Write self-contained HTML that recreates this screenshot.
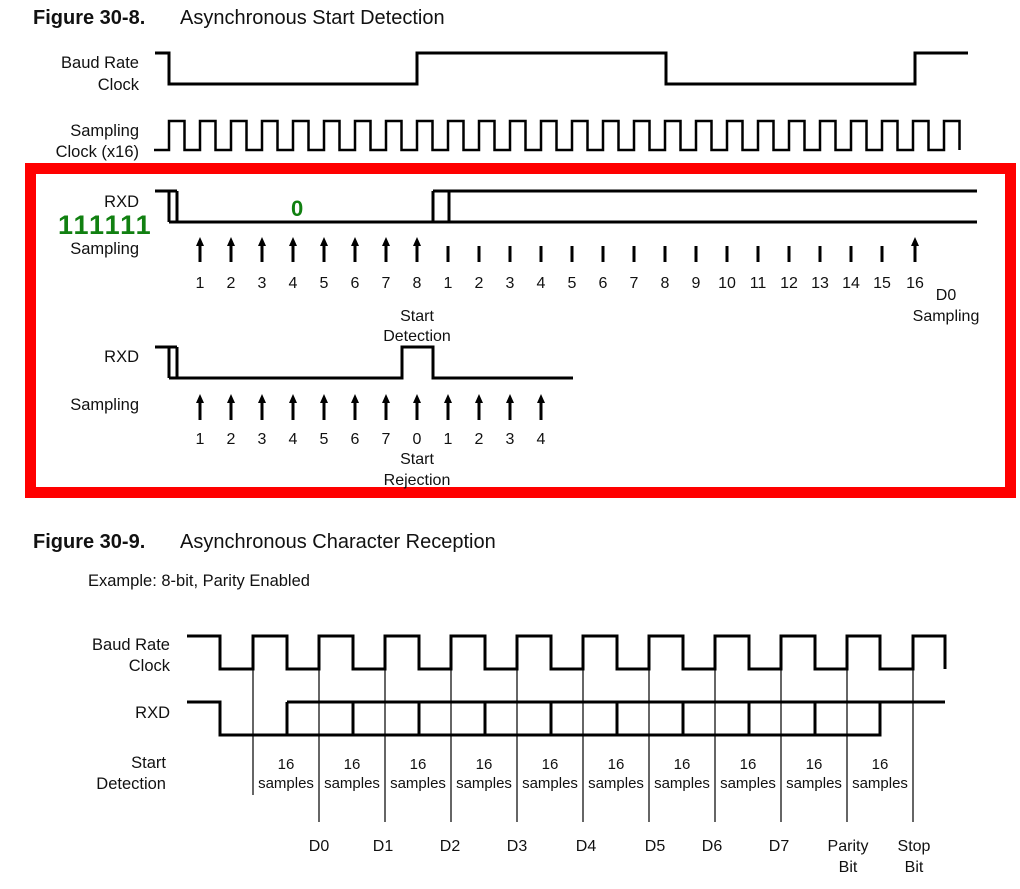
<!DOCTYPE html>
<html><head><meta charset="utf-8"><style>
html,body{margin:0;padding:0;background:#fff;}
svg{display:block;}
text{font-family:"Liberation Sans",Arial,sans-serif;fill:#111;}
</style></head><body>
<svg width="1020" height="889" viewBox="0 0 1020 889" xmlns="http://www.w3.org/2000/svg">
<g font-size="20">
<text x="33" y="24" font-weight="bold">Figure 30-8.</text>
<text x="180" y="24">Asynchronous Start Detection</text>
<text x="33" y="548" font-weight="bold">Figure 30-9.</text>
<text x="180" y="548">Asynchronous Character Reception</text>
</g>
<g font-size="16.5" text-anchor="end">
<text x="139" y="68">Baud Rate</text>
<text x="139" y="90">Clock</text>
<text x="139" y="136">Sampling</text>
<text x="139" y="157">Clock (x16)</text>
<text x="139" y="207">RXD</text>
<text x="139" y="254">Sampling</text>
<text x="139" y="362">RXD</text>
<text x="139" y="410">Sampling</text>
<text x="170" y="650">Baud Rate</text>
<text x="170" y="671">Clock</text>
<text x="170" y="718">RXD</text>
<text x="166" y="768">Start</text>
<text x="166" y="789">Detection</text>
</g>
<text x="88" y="586" font-size="16.5">Example: 8-bit, Parity Enabled</text>
<rect x="30.5" y="168.5" width="980" height="324" fill="none" stroke="#f00" stroke-width="11"/>
<text x="58" y="234" font-size="27" font-weight="bold" letter-spacing="2" style="fill:#118011">111111</text>
<text x="291" y="216" font-size="22" font-weight="bold" style="fill:#118011">0</text>
<g fill="none" stroke="#000" stroke-width="3">
<polyline points="155,53 169,53 169,84 417,84 417,53 666,53 666,84 915,84 915,53 968,53"/>
<polyline points="155,191 177,191"/>
<path d="M169,191V222M177,191V222M169,222H449M433,222V191M449,222V191M433,191H977M449,222H977"/>
<polyline points="155,347 177,347"/>
<path d="M169,347V378M177,347V378M169,378H402V347H433V378H573"/>
<polyline points="187,636 220,636 220,669 253,669 253,636 287,636 287,669 319,669 319,636 353,636 353,669 385,669 385,636 419,636 419,669 451,669 451,636 485,636 485,669 517,669 517,636 551,636 551,669 583,669 583,636 617,636 617,669 649,669 649,636 683,636 683,669 715,669 715,636 749,636 749,669 781,669 781,636 815,636 815,669 847,669 847,636 880,636 880,669 913,669 913,636 945,636 945,669"/>
<path d="M187,702H220V735H880V702M287,702H945M287,702V735M353,702V735M419,702V735M485,702V735M551,702V735M617,702V735M683,702V735M749,702V735M815,702V735"/>
</g>
<polyline fill="none" stroke="#000" stroke-width="2.5" points="154,150 169,150 169,121 184.5,121 184.5,150 200,150 200,121 215.5,121 215.5,150 231,150 231,121 246.5,121 246.5,150 262,150 262,121 277.5,121 277.5,150 293,150 293,121 308.5,121 308.5,150 324,150 324,121 339.5,121 339.5,150 355,150 355,121 370.5,121 370.5,150 386,150 386,121 401.5,121 401.5,150 417,150 417,121 432.5,121 432.5,150 448,150 448,121 463.5,121 463.5,150 479,150 479,121 494.5,121 494.5,150 510,150 510,121 525.5,121 525.5,150 541,150 541,121 556.5,121 556.5,150 572,150 572,121 587.5,121 587.5,150 603,150 603,121 618.5,121 618.5,150 634,150 634,121 649.5,121 649.5,150 665,150 665,121 680.5,121 680.5,150 696,150 696,121 711.5,121 711.5,150 727,150 727,121 742.5,121 742.5,150 758,150 758,121 773.5,121 773.5,150 789,150 789,121 804.5,121 804.5,150 820,150 820,121 835.5,121 835.5,150 851,150 851,121 866.5,121 866.5,150 882,150 882,121 897.5,121 897.5,150 913,150 913,121 928.5,121 928.5,150 944,150 944,121 959.5,121 959.5,150"/>
<g stroke="#000" stroke-width="1.2">
<path d="M253,669V795M319,669V822M385,669V822M451,669V822M517,669V822M583,669V822M649,669V822M715,669V822M781,669V822M847,669V822M913,669V822"/>
</g>
<g stroke="#000" stroke-width="3" fill="#000">
<path d="M200,244V262M231,244V262M262,244V262M293,244V262M324,244V262M355,244V262M386,244V262M417,244V262M915,244V262"/>
<path d="M448,246V262M479,246V262M510,246V262M541,246V262M572,246V262M603,246V262M634,246V262M665,246V262M696,246V262M727,246V262M758,246V262M789,246V262M820,246V262M851,246V262M882,246V262"/>
<path d="M200,401V420M231,401V420M262,401V420M293,401V420M324,401V420M355,401V420M386,401V420M417,401V420M448,401V420M479,401V420M510,401V420M541,401V420"/>
</g>
<g fill="#000">
<path d="M196,246L200,237L204,246ZM227,246L231,237L235,246ZM258,246L262,237L266,246ZM289,246L293,237L297,246ZM320,246L324,237L328,246ZM351,246L355,237L359,246ZM382,246L386,237L390,246ZM413,246L417,237L421,246ZM911,246L915,237L919,246Z"/>
<path d="M196,403L200,394L204,403ZM227,403L231,394L235,403ZM258,403L262,394L266,403ZM289,403L293,394L297,403ZM320,403L324,394L328,403ZM351,403L355,394L359,403ZM382,403L386,394L390,403ZM413,403L417,394L421,403ZM444,403L448,394L452,403ZM475,403L479,394L483,403ZM506,403L510,394L514,403ZM537,403L541,394L545,403Z"/>
</g>
<g font-size="16" text-anchor="middle">
<text x="200" y="288">1</text><text x="231" y="288">2</text><text x="262" y="288">3</text><text x="293" y="288">4</text><text x="324" y="288">5</text><text x="355" y="288">6</text><text x="386" y="288">7</text><text x="417" y="288">8</text>
<text x="448" y="288">1</text><text x="479" y="288">2</text><text x="510" y="288">3</text><text x="541" y="288">4</text><text x="572" y="288">5</text><text x="603" y="288">6</text><text x="634" y="288">7</text><text x="665" y="288">8</text><text x="696" y="288">9</text><text x="727" y="288">10</text><text x="758" y="288">11</text><text x="789" y="288">12</text><text x="820" y="288">13</text><text x="851" y="288">14</text><text x="882" y="288">15</text><text x="915" y="288">16</text>
<text x="946" y="300">D0</text><text x="946" y="321">Sampling</text>
<text x="417" y="321">Start</text><text x="417" y="341">Detection</text>
<text x="200" y="444">1</text><text x="231" y="444">2</text><text x="262" y="444">3</text><text x="293" y="444">4</text><text x="324" y="444">5</text><text x="355" y="444">6</text><text x="386" y="444">7</text><text x="417" y="444">0</text><text x="448" y="444">1</text><text x="479" y="444">2</text><text x="510" y="444">3</text><text x="541" y="444">4</text>
<text x="417" y="464">Start</text><text x="417" y="485">Rejection</text>
<text x="319" y="851">D0</text><text x="383" y="851">D1</text><text x="450" y="851">D2</text><text x="517" y="851">D3</text><text x="586" y="851">D4</text><text x="655" y="851">D5</text><text x="712" y="851">D6</text><text x="779" y="851">D7</text>
<text x="848" y="851">Parity</text><text x="848" y="872">Bit</text><text x="914" y="851">Stop</text><text x="914" y="872">Bit</text>
</g>
<g font-size="15" text-anchor="middle">
<text x="286" y="769">16</text><text x="286" y="788">samples</text>
<text x="352" y="769">16</text><text x="352" y="788">samples</text>
<text x="418" y="769">16</text><text x="418" y="788">samples</text>
<text x="484" y="769">16</text><text x="484" y="788">samples</text>
<text x="550" y="769">16</text><text x="550" y="788">samples</text>
<text x="616" y="769">16</text><text x="616" y="788">samples</text>
<text x="682" y="769">16</text><text x="682" y="788">samples</text>
<text x="748" y="769">16</text><text x="748" y="788">samples</text>
<text x="814" y="769">16</text><text x="814" y="788">samples</text>
<text x="880" y="769">16</text><text x="880" y="788">samples</text>
</g>
</svg>
</body></html>
